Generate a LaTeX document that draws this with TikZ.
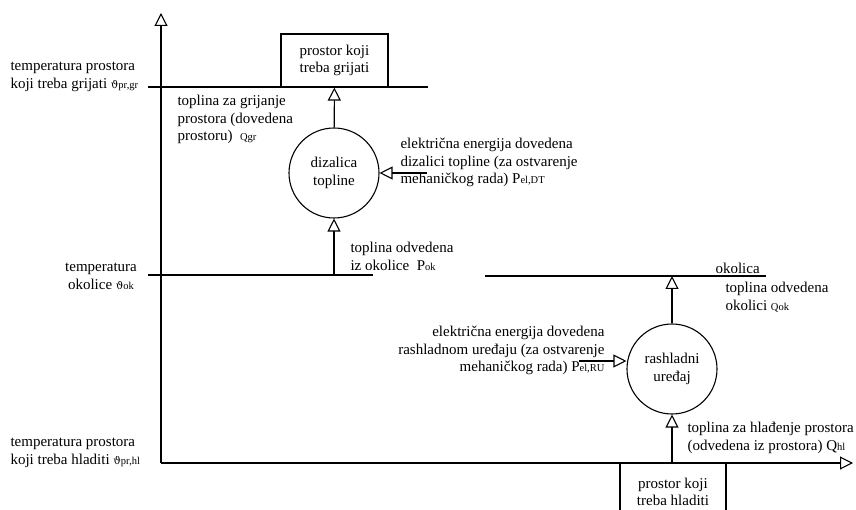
\documentclass[tikz,border=0pt]{standalone}
\usepackage{fontspec}
\setmainfont{Liberation Serif}
\newfontfamily\grk{DejaVu Serif}
\usetikzlibrary{arrows.meta}
\newcommand\idx[1]{{\fontsize{10.5}{10.5}\selectfont #1}}

\begin{document}
\begin{tikzpicture}[x=1pt,y=-1pt,line width=1.1pt,>={Triangle[open,length=13pt,width=13pt]}]
      \tikzstyle{txt}=[inner sep=0pt,font=\fontsize{15}{17.5}\selectfont]
      \tikzstyle{device}=[circle,draw,minimum size=90pt,inner sep=0pt,align=center,font=\fontsize{15}{17.5}\selectfont]
      \tikzstyle{space}=[rectangle,draw,minimum width=107pt,minimum height=53pt,inner sep=0pt,align=center,font=\fontsize{15}{17.5}\selectfont]
      \useasboundingbox (0,0) rectangle (856,510);

      % axes
      \coordinate (o) at (161,463);
      \coordinate (top) at (161,13);
      \coordinate (end) at (853,463);
      \draw[->] (o) -- (top);
      \draw[->] (o) -- (end);

      % temperature levels
      \coordinate (gr1) at (148,87);
      \coordinate (gr2) at (428,87);
      \coordinate (ok1) at (148,275);
      \coordinate (ok2) at (373,275);
      \coordinate (ok3) at (485,276);
      \coordinate (ok4) at (766,276);
      \draw (gr1) -- (gr2);
      \draw (ok1) -- (ok2);
      \draw (ok3) -- (ok4);

      % heat pump
      \node[space] (grbox) at (334.5,60.5) {prostor koji\\treba grijati};
      \node[device] (dt) at (334,173) {dizalica\\topline};
      \coordinate (pokin) at (334,275);
      \coordinate (eldt) at (427,173);
      \draw[->] (dt) -- (grbox);
      \draw[->] (pokin) -- (dt);
      \draw[->] (eldt) -- (dt);

      % refrigerator
      \node[device] (ru) at (672,369) {rashladni\\uređaj};
      \coordinate (qokout) at (672,276);
      \coordinate (qhlin) at (672,463);
      \coordinate (elru) at (579,361);
      \draw (620,520) rectangle (726,463);
      \node[txt,align=center,anchor=north,font=\fontsize{15}{16.5}\selectfont] (hlbox) at (673,478) {prostor koji\\treba hladiti};
      \draw[->] (ru) -- (qokout);
      \draw[->] (qhlin) -- (ru);
      \draw[->] (elru) -- (elru -| ru.west);

      % labels
      \node[txt,align=left,anchor=north west] (tgr) at (10,62) {temperatura prostora\\koji treba grijati \idx{{\grk ϑ}pr,gr}};
      \node[txt,align=center,anchor=north] (tok) at (101,263) {temperatura\\okolice \idx{{\grk ϑ}ok}};
      \node[txt,align=left,anchor=north west] (thl) at (10,438) {temperatura prostora\\koji treba hladiti \idx{{\grk ϑ}pr,hl}};
      \node[txt,align=left,anchor=north west] (qgr) at (177,95) {toplina za grijanje\\prostora (dovedena\\prostoru)~ \idx{Qgr}};
      \node[txt,align=left,anchor=north west] (peldt) at (400,138) {električna energija dovedena\\dizalici topline (za ostvarenje\\mehaničkog rada) P\idx{el,DT}};
      \node[txt,align=left,anchor=north west] (pok) at (350,242) {toplina odvedena\\iz okolice~ P\idx{ok}};
      \node[txt,anchor=north west] (okolica) at (715,263) {okolica};
      \node[txt,align=left,anchor=north west] (qok) at (725,282) {toplina odvedena\\okolici \idx{Qok}};
      \node[txt,align=right,anchor=north east] (pelru) at (605,326) {električna energija dovedena\\rashladnom uređaju (za ostvarenje\\mehaničkog rada) P\idx{el,RU}};
      \node[txt,align=left,anchor=north west] (qhl) at (687,422) {toplina za hlađenje prostora\\(odvedena iz prostora) Q\idx{hl}};
\end{tikzpicture}
\end{document}
